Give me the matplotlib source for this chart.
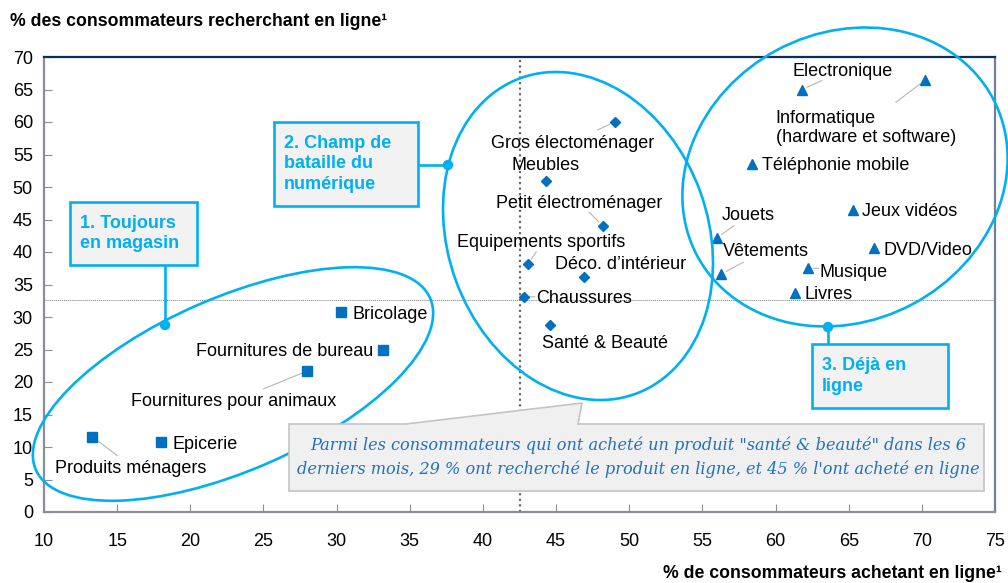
import matplotlib
matplotlib.use("Agg")
import matplotlib.pyplot as plt
from matplotlib.patches import Ellipse, Rectangle, Polygon, Circle

plt.rcParams['font.family'] = ['Liberation Sans', 'DejaVu Sans']

# ---------------- data ----------------
store_names = ["Produits ménagers", "Epicerie", "Fournitures pour animaux",
               "Fournitures de bureau", "Bricolage"]
store_x = [13.3, 18.0, 28.0, 33.2, 30.3]
store_y = [11.6, 10.7, 21.7, 25.0, 30.7]

battle_names = ["Gros électoménager", "Meubles", "Petit électroménager",
                "Equipements sportifs", "Déco. d\u2019intérieur", "Chaussures",
                "Santé & Beauté"]
battle_x = [49.0, 44.3, 48.2, 43.1, 46.9, 42.8, 44.6]
battle_y = [60.0, 50.9, 44.0, 38.2, 36.2, 33.1, 28.8]

online_names = ["Electronique", "Informatique\n(hardware et software)",
                "Téléphonie mobile", "Jeux vidéos", "Jouets", "DVD/Video",
                "Vêtements", "Musique", "Livres"]
online_x = [61.8, 70.2, 58.4, 65.3, 56.0, 66.7, 56.3, 62.2, 61.3]
online_y = [65.0, 66.4, 53.6, 46.5, 42.2, 40.6, 36.6, 37.5, 33.7]

x_ticks = list(range(10, 80, 5))
y_ticks = list(range(0, 75, 5))
median_x = 42.5
median_y = 32.6

title = "% des consommateurs recherchant en ligne\u00b9"
xlabel = "% de consommateurs achetant en ligne\u00b9"
group_labels = ["1. Toujours\nen magasin", "2. Champ de\nbataille du\nnumérique",
                "3. Déjà en\nligne"]
callout = ("Parmi les consommateurs qui ont acheté un produit \"santé & beauté\" dans les 6\n"
           "derniers mois, 29 % ont recherché le produit en ligne, et 45 % l'ont acheté en ligne")

# ---------------- layout (pixel offsets: label, leader) ----------------
label_layout = {
    "Produits ménagers": ((38, -30), 'center', (25, -19)),
    "Epicerie": ((11, 0), 'left', None),
    "Fournitures pour animaux": ((-74, -29), 'center', (-44, -18)),
    "Fournitures de bureau": ((-10, 0), 'right', None),
    "Bricolage": ((11, 0), 'left', None),
    "Gros électoménager": ((-42, -19), 'center', (-17, -8)),
    "Meubles": ((0, 18), 'center', None),
    "Petit électroménager": ((-24, 25), 'center', (-14, 14)),
    "Equipements sportifs": ((13, 23), 'center', (8, 12)),
    "Déco. d\u2019intérieur": ((37, 14), 'center', None),
    "Chaussures": ((12, 0), 'left', (11, 0)),
    "Santé & Beauté": ((55, -17), 'center', None),
    "Electronique": ((41, 20), 'center', (20, 9)),
    "Informatique\n(hardware et software)": ((-149, -46), 'left', (-29, -22)),
    "Téléphonie mobile": ((10, 0), 'left', None),
    "Jeux vidéos": ((9, 0), 'left', None),
    "Jouets": ((31, 24), 'center', (17, 12)),
    "DVD/Video": ((10, 0), 'left', None),
    "Vêtements": ((45, 25), 'center', (22, 12)),
    "Musique": ((12, -2), 'left', (11, 0)),
    "Livres": ((10, 0), 'left', None),
}

MARK = "#0070C0"
CYAN = "#00B0F0"

W, H = 1008, 583
fig = plt.figure(figsize=(W / 100, H / 100), dpi=100)
L, R, B, T = 44, 995, 512, 57
ax = fig.add_axes([L / W, (H - B) / H, (R - L) / W, (B - T) / H])

ax.set_xlim(10, 75)
ax.set_ylim(0, 70)
ax.set_xticks(x_ticks)
ax.set_yticks(y_ticks)
ax.tick_params(axis='both', direction='in', length=6, color='#8a8f96',
               labelsize=13, labelcolor='black')
ax.tick_params(axis='x', pad=15)
ax.tick_params(axis='y', pad=8)
ax.spines['left'].set_color('#8a8f96')
ax.spines['bottom'].set_color('#8a8f96')
ax.spines['top'].set_color('#0b2d5e')
ax.spines['right'].set_color('#6f7f9c')
for s in ax.spines.values():
    s.set_linewidth(1.6)

ax.axvline(median_x, color='#6a6a6a', ls=(0, (1, 1.5)), lw=1.6, zorder=1)
ax.axhline(median_y, color='#7a7a7a', ls=(0, (1, 1)), lw=0.7, zorder=1)

ax.plot(store_x, store_y, 's', color=MARK, ms=6.5, ls='none', zorder=4)
ax.plot(battle_x, battle_y, 'D', color=MARK, ms=5.5, ls='none', zorder=4)
ax.plot(online_x, online_y, '^', color=MARK, ms=7, ls='none', zorder=4)

for names, xs, ys in [(store_names, store_x, store_y),
                      (battle_names, battle_x, battle_y),
                      (online_names, online_x, online_y)]:
    for n, x, y in zip(names, xs, ys):
        (dx, dy), ha, lead = label_layout[n]
        ax.annotate(n, (x, y), xytext=(dx, dy - 2), textcoords='offset pixels',
                    ha=ha, va='center', fontsize=13, linespacing=1.15, zorder=5)
        if lead is not None:
            ax.annotate('', (x, y), xytext=lead, textcoords='offset pixels',
                        arrowprops=dict(arrowstyle='-', color='#b5b5b5', lw=0.8,
                                        shrinkA=0, shrinkB=4), zorder=3)

fig.text(10 / W, 1 - 22 / H, title, fontsize=12.7, fontweight='bold', va='center', ha='left')
fig.text(1002 / W, 1 - 573 / H, xlabel, fontsize=12.7, fontweight='bold', va='center', ha='right')

# ---------------- overlay in pixel units ----------------
ov = fig.add_axes([0, 0, 1, 1], zorder=3)
ov.set_xlim(0, W)
ov.set_ylim(H, 0)
ov.axis('off')
ov.patch.set_alpha(0)

ellipses = [((233, 384), 430, 173, -23.5),
            ((578, 236), 260, 336, -20),
            ((845, 177), 335, 288, -28)]
for c, w, h, a in ellipses:
    ov.add_patch(Ellipse(c, w, h, angle=a, fill=False, ec=CYAN, lw=1.9))

boxes = [(70, 202, 127, 63), (274, 122, 144, 84), (812, 344, 136, 64)]
connectors = [((165, 265), (165, 325)), ((418, 165), (448, 165)), ((828, 344), (828, 327))]
for (bx, by, bw, bh), lbl, (p0, p1) in zip(boxes, group_labels, connectors):
    ov.add_patch(Rectangle((bx, by), bw, bh, fc='#F2F2F2', ec=CYAN, lw=1.9, zorder=4))
    ov.plot([p0[0], p1[0]], [p0[1], p1[1]], color=CYAN, lw=1.9, zorder=3)
    ov.add_patch(Circle(p1, 4.5, color=CYAN, zorder=5))
    ov.text(bx + 10, by + bh / 2, lbl, color=CYAN, fontsize=13, fontweight='bold',
            va='center', ha='left', linespacing=1.3, zorder=6)

poly = [(289, 424), (406, 424), (582, 403), (578, 424), (984, 424), (984, 491), (289, 491)]
ov.add_patch(Polygon(poly, closed=True, fc='#F0F0F0', ec='#C4C4C4', lw=1.2, zorder=7))
ov.text(638, 457.5, callout, ha='center', va='center', fontsize=11.6, style='italic',
        family='DejaVu Serif', color='#1F6FC4', linespacing=1.45, zorder=8)

fig.savefig("out.png", dpi=100)
